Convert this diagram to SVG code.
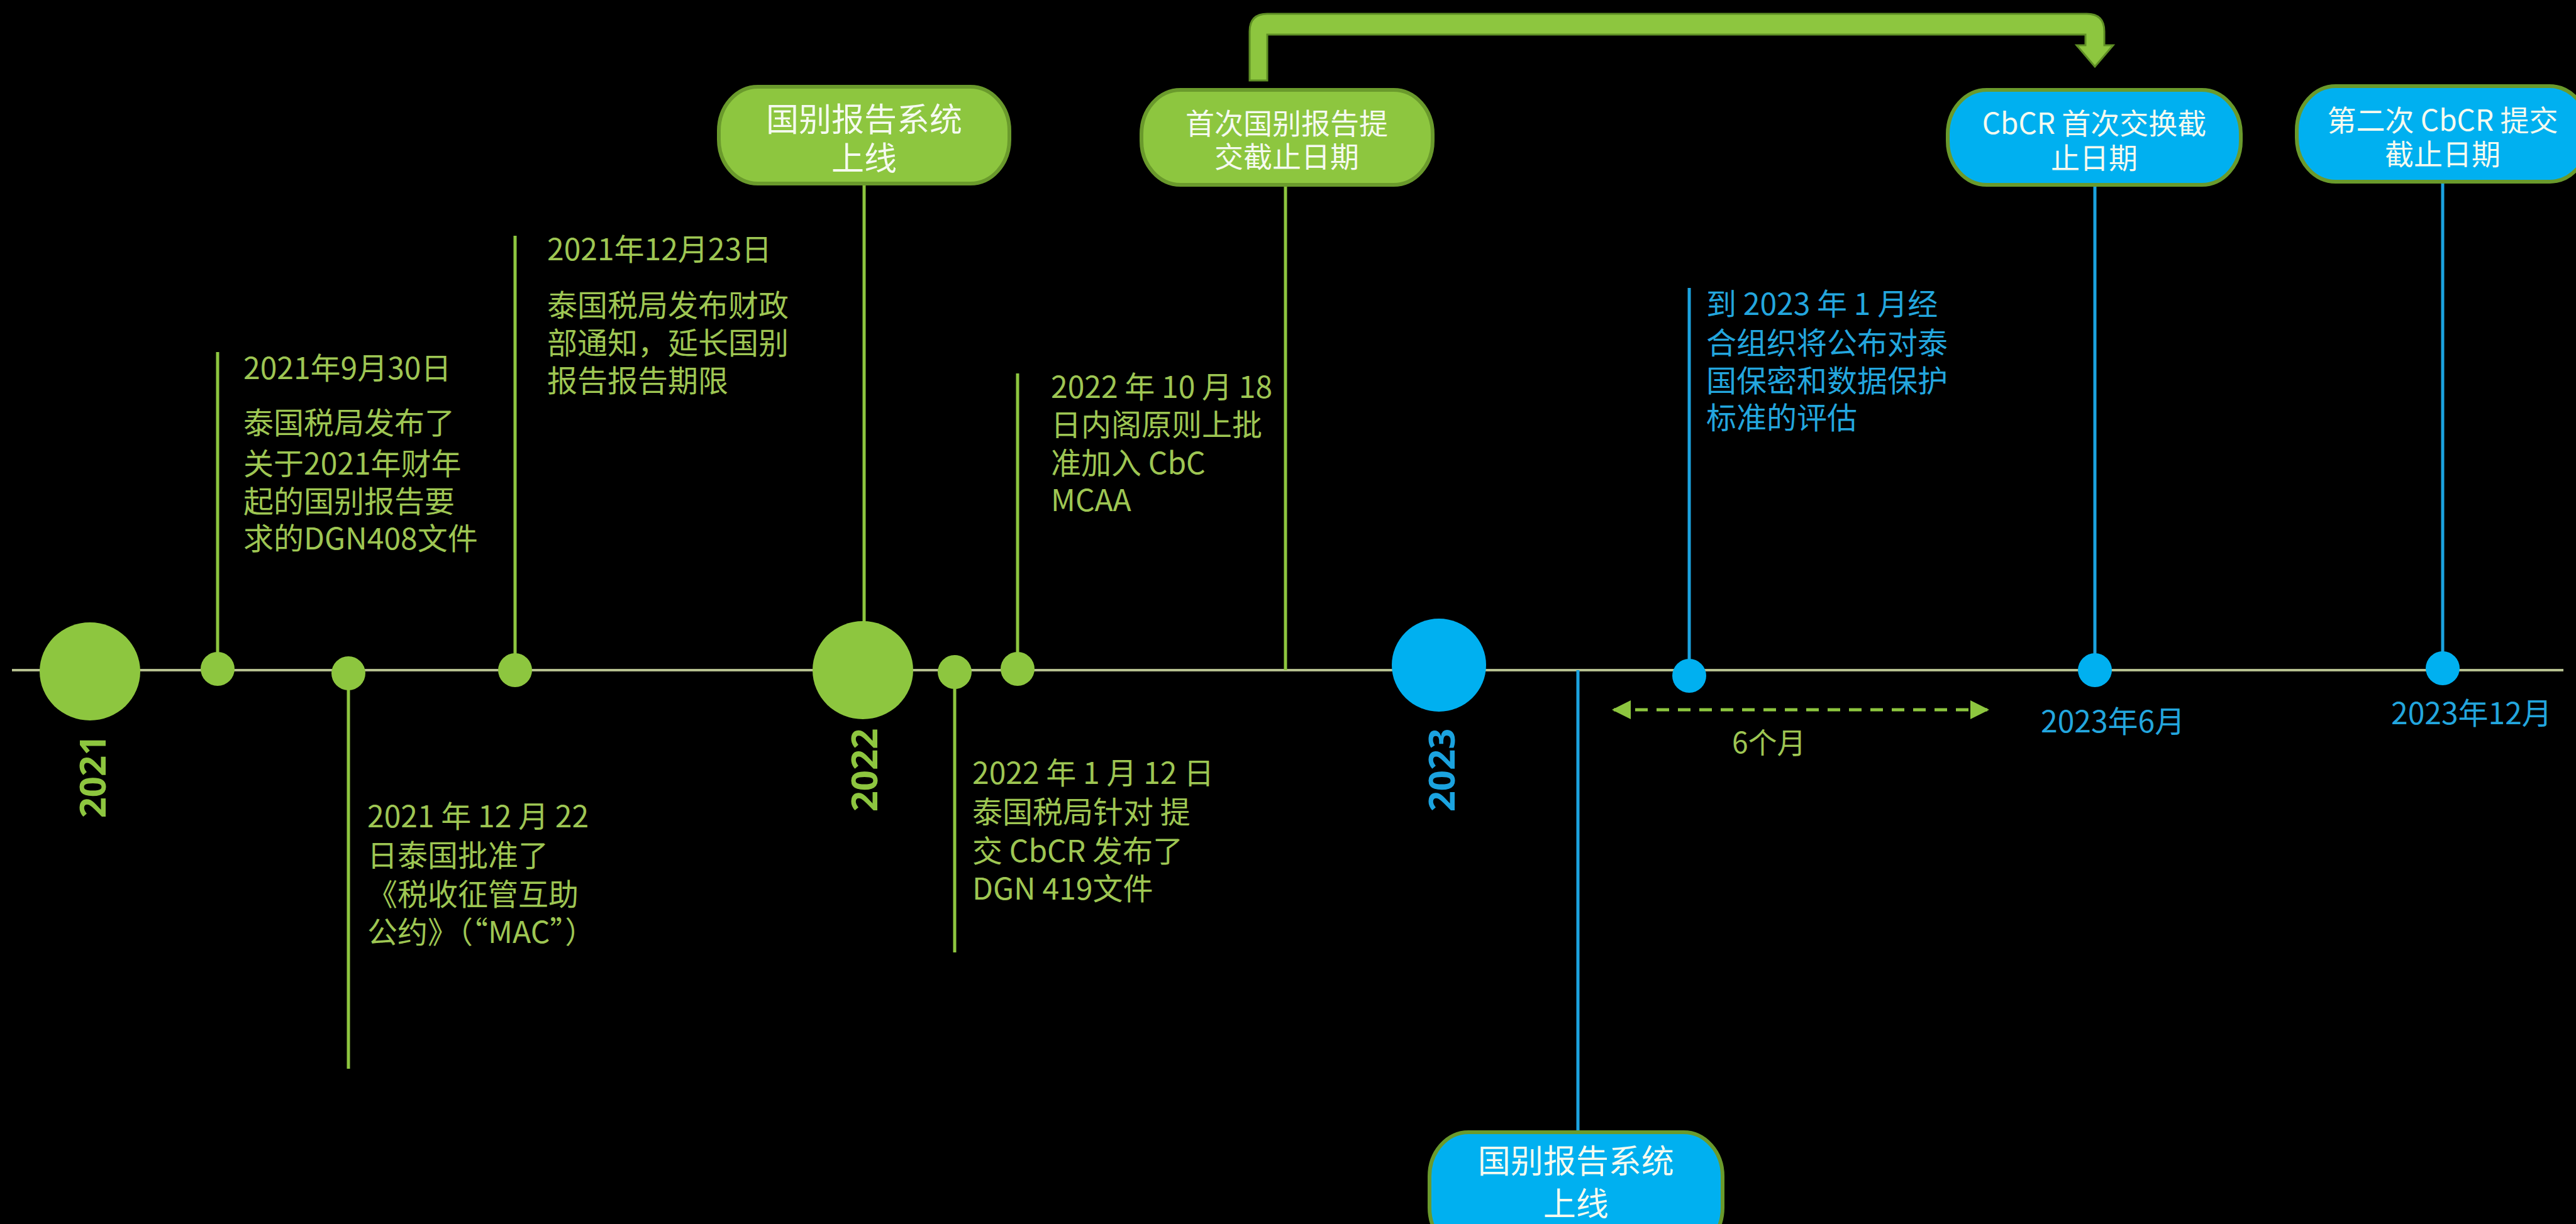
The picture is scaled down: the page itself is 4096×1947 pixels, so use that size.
<svg xmlns="http://www.w3.org/2000/svg" width="4096" height="1947" viewBox="0 0 4096 1947">
<defs>
<style>
.ann{font-family:"Noto Sans CJK SC","Noto Sans",sans-serif;font-size:48px;fill:#9EC653;}
.annb{font-family:"Noto Sans CJK SC","Noto Sans",sans-serif;font-size:48px;fill:#23A6DE;}
.boxg{fill:#8DC63F;stroke:#6A9A2C;stroke-width:6;}
.boxb{fill:#00B0F0;stroke:#6A9A2C;stroke-width:6;}
.bt{font-family:"Noto Sans CJK SC","Noto Sans",sans-serif;font-size:46px;fill:#F5FAF0;text-anchor:middle;}
.bt2{font-family:"Noto Sans CJK SC","Noto Sans",sans-serif;font-size:52px;fill:#F5FAF0;text-anchor:middle;}
.vg{stroke:#8DC63F;stroke-width:5;fill:none;}
.vb{stroke:#1BA3E0;stroke-width:5;fill:none;}
.dg{fill:#8DC63F;}
.db{fill:#00B0F0;}
.year{font-family:"Noto Sans","Noto Sans CJK SC",sans-serif;font-weight:700;font-size:58px;text-anchor:middle;dominant-baseline:central;}
</style>
<marker id="ah" viewBox="0 0 10 10" refX="9" refY="5" markerWidth="6" markerHeight="6" orient="auto-start-reverse" markerUnits="strokeWidth">
<path d="M0,0 L10,5 L0,10 Z" fill="#8DC63F"/>
</marker>
</defs>
<rect x="0" y="0" width="4096" height="1947" fill="#000000"/>

<g id="connectors">
<line id="axis" x1="19" y1="1066" x2="4076" y2="1066" stroke="#B5BF8F" stroke-width="4"/>
<line class="vg" x1="346" y1="1064" x2="346" y2="560"/>
<line class="vg" x1="554" y1="1071" x2="554" y2="1700"/>
<line class="vg" x1="819" y1="1066" x2="819" y2="375"/>
<line class="vg" x1="1374" y1="1066" x2="1374" y2="292"/>
<line class="vg" x1="1518" y1="1069" x2="1518" y2="1515"/>
<line class="vg" x1="1618" y1="1064" x2="1618" y2="594"/>
<line class="vg" x1="2044" y1="1066" x2="2044" y2="294"/>
<line class="vb" x1="2509" y1="1066" x2="2509" y2="1801"/>
<line class="vb" x1="2686" y1="1075" x2="2686" y2="458"/>
<line class="vb" x1="3331" y1="1066" x2="3331" y2="294"/>
<line class="vb" x1="3884" y1="1063" x2="3884" y2="290"/>
<line id="six-months" x1="2566" y1="1129" x2="3160" y2="1129" stroke="#8DC63F" stroke-width="5" stroke-dasharray="20 14" marker-start="url(#ah)" marker-end="url(#ah)"/>
<path id="bent-arrow" d="M1987 128 L1987 50 Q1987 22 2015 22 L3318 22 Q3346 22 3346 50 L3346 72 L3360 72 L3331 106 L3302 72 L3316 72 L3316 55 L2015 55 L2015 128 Z" fill="#8DC63F" stroke="#5F8F25" stroke-width="3"/>
</g>

<g id="year-2021">
<ellipse class="dg" cx="143" cy="1068" rx="80" ry="78"/>
<text class="year" fill="#8DC63F" transform="rotate(-90 145 1235)" x="145" y="1235">2021</text>
</g>
<g id="year-2022">
<ellipse class="dg" cx="1372" cy="1066" rx="80" ry="78"/>
<text class="year" fill="#8DC63F" transform="rotate(-90 1372 1225)" x="1372" y="1225">2022</text>
</g>
<g id="year-2023">
<ellipse class="db" cx="2288" cy="1058" rx="75" ry="74"/>
<text class="year" fill="#1BA3E0" transform="rotate(-90 2290 1225)" x="2290" y="1225">2023</text>
</g>

<g id="ev-2021-09-30">
<circle class="dg" cx="346" cy="1064" r="27"/>
<text class="ann" x="387" y="603">2021年9月30日</text>
<text class="ann" x="387" y="690">泰国税局发布了</text>
<text class="ann" x="387" y="755">关于2021年财年</text>
<text class="ann" x="387" y="815">起的国别报告要</text>
<text class="ann" x="387" y="874">求的DGN408文件</text>
</g>
<g id="ev-2021-12-22">
<circle class="dg" cx="554" cy="1071" r="27"/>
<text class="ann" x="584" y="1316">2021 年 12 月 22</text>
<text class="ann" x="584" y="1378">日泰国批准了</text>
<text class="ann" x="584" y="1440">《税收征管互助</text>
<text class="ann" x="584" y="1500">公约》（“MAC”）</text>
</g>
<g id="ev-2021-12-23">
<circle class="dg" cx="819" cy="1066" r="27"/>
<text class="ann" x="870" y="414">2021年12月23日</text>
<text class="ann" x="870" y="503">泰国税局发布财政</text>
<text class="ann" x="870" y="563">部通知，延长国别</text>
<text class="ann" x="870" y="623">报告报告期限</text>
</g>
<g id="ev-2022-01-12">
<circle class="dg" cx="1518" cy="1069" r="27"/>
<text class="ann" x="1546" y="1247">2022 年 1 月 12 日</text>
<text class="ann" x="1546" y="1309">泰国税局针对 提</text>
<text class="ann" x="1546" y="1371">交 CbCR 发布了</text>
<text class="ann" x="1546" y="1431">DGN 419文件</text>
</g>
<g id="ev-2022-10-18">
<circle class="dg" cx="1618" cy="1064" r="27"/>
<text class="ann" x="1671" y="633">2022 年 10 月 18</text>
<text class="ann" x="1671" y="693">日内阁原则上批</text>
<text class="ann" x="1671" y="754">准加入 CbC</text>
<text class="ann" x="1671" y="813">MCAA</text>
</g>
<g id="ev-2023-01">
<circle class="db" cx="2686" cy="1075" r="27"/>
<text class="annb" x="2713" y="501">到 2023 年 1 月经</text>
<text class="annb" x="2713" y="563">合组织将公布对泰</text>
<text class="annb" x="2713" y="623">国保密和数据保护</text>
<text class="annb" x="2713" y="682">标准的评估</text>
</g>
<g id="ev-2023-06">
<circle class="db" cx="3331" cy="1066" r="27"/>
<text class="annb" x="3245" y="1165">2023年6月</text>
</g>
<g id="ev-2023-12">
<circle class="db" cx="3884" cy="1063" r="27"/>
<text class="annb" x="3802" y="1152">2023年12月</text>
</g>
<g id="label-6months">
<text class="ann" x="2754" y="1198" style="font-size:46px">6个月</text>
</g>

<g id="box-system-online-1">
<rect class="boxg" x="1143" y="138" width="462" height="154" rx="62" ry="70"/>
<text class="bt2" x="1374" y="209">国别报告系统</text>
<text class="bt2" x="1374" y="271">上线</text>
</g>
<g id="box-first-filing">
<rect class="boxg" x="1815" y="143" width="463" height="151" rx="62" ry="70"/>
<text class="bt" x="2046" y="213">首次国别报告提</text>
<text class="bt" x="2046" y="266">交截止日期</text>
</g>
<g id="box-first-exchange">
<rect class="boxb" x="3097" y="143" width="466" height="151" rx="62" ry="70"/>
<text class="bt" x="3330" y="213">CbCR 首次交换截</text>
<text class="bt" x="3330" y="268">止日期</text>
</g>
<g id="box-second-filing">
<rect class="boxb" x="3652" y="137" width="464" height="152" rx="62" ry="70"/>
<text class="bt" x="3884" y="208">第二次 CbCR 提交</text>
<text class="bt" x="3884" y="262">截止日期</text>
</g>
<g id="box-system-online-2">
<rect class="boxb" x="2273" y="1801" width="466" height="190" rx="62" ry="70"/>
<text class="bt2" x="2506" y="1866">国别报告系统</text>
<text class="bt2" x="2506" y="1934">上线</text>
</g>
</svg>
